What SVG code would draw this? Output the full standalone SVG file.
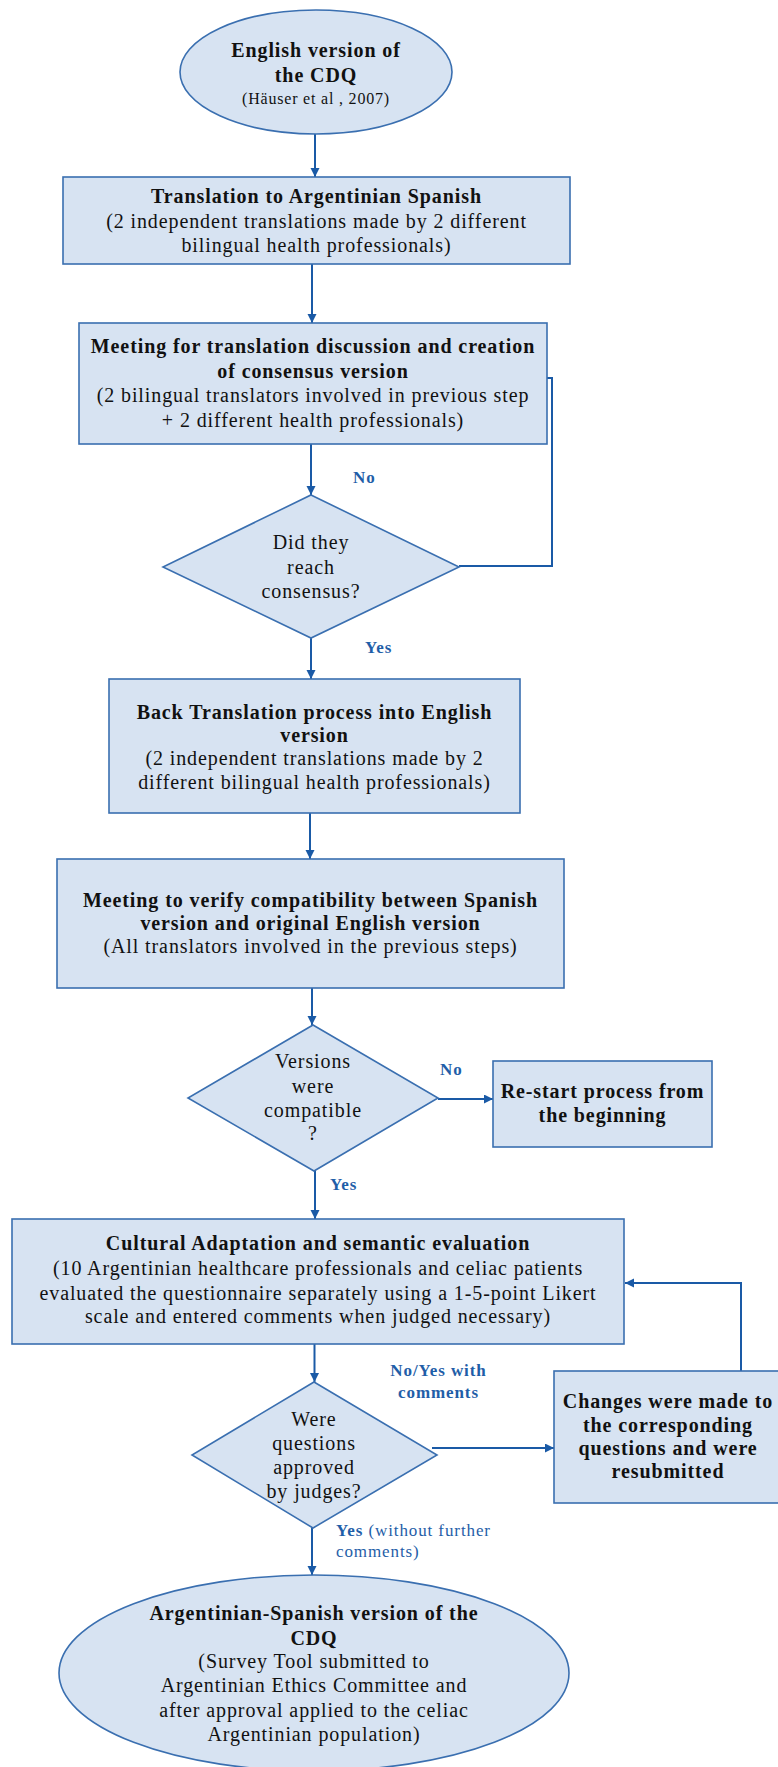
<svg xmlns="http://www.w3.org/2000/svg" width="778" height="1767" viewBox="0 0 778 1767">
<style>
  .node { fill: #d7e3f2; stroke: #3a6fb0; stroke-width: 1.6; }
  .t { font-family: "Liberation Serif", "Times New Roman", serif; font-size: 20px; letter-spacing: 0.9px; fill: #111; text-anchor: middle; }
  .b { font-weight: bold; }
  .small { font-size: 16px; letter-spacing: 0.8px; }
  .lbl { font-family: "Liberation Serif", "Times New Roman", serif; font-size: 17px; letter-spacing: 0.9px; fill: #1f5ea8; }
  .lb { font-weight: bold; }
  .conn { fill: none; stroke: #1a5aa6; stroke-width: 2; }
  .arr { marker-end: url(#ah); }
</style>
<defs>
  <marker id="ah" markerUnits="userSpaceOnUse" markerWidth="10" markerHeight="10" refX="9" refY="4.5" orient="auto">
    <path d="M0,0 L9,4.5 L0,9 z" fill="#1a5aa6"/>
  </marker>
</defs>
<rect width="778" height="1767" fill="#ffffff"/>

<g id="connectors">
  <line class="conn arr" x1="315" y1="134" x2="315" y2="177"/>
  <line class="conn arr" x1="312" y1="264" x2="312" y2="323"/>
  <polyline class="conn" points="459,566 552,566 552,378 547,378"/>
  <line class="conn arr" x1="311" y1="444" x2="311" y2="495"/>
  <line class="conn arr" x1="311" y1="638" x2="311" y2="679"/>
  <line class="conn arr" x1="310" y1="813" x2="310" y2="859"/>
  <line class="conn arr" x1="312" y1="988" x2="312" y2="1025"/>
  <line class="conn arr" x1="438" y1="1099" x2="493" y2="1099"/>
  <line class="conn arr" x1="315" y1="1171" x2="315" y2="1219"/>
  <line class="conn arr" x1="314.5" y1="1344" x2="314.5" y2="1382"/>
  <line class="conn arr" x1="432" y1="1448" x2="554" y2="1448"/>
  <polyline class="conn arr" points="741,1371 741,1283 625,1283"/>
  <line class="conn arr" x1="312" y1="1528" x2="312" y2="1575"/>
  <text class="lbl lb" x="353" y="483">No</text>
  <text class="lbl lb" x="365" y="653">Yes</text>
  <text class="lbl lb" x="440" y="1075">No</text>
  <text class="lbl lb" x="330" y="1190">Yes</text>
  <text class="lbl lb" x="438.5" y="1376" text-anchor="middle">No/Yes with</text>
  <text class="lbl lb" x="438.5" y="1398" text-anchor="middle">comments</text>
  <text class="lbl" x="336" y="1536"><tspan class="lb">Yes</tspan> (without further</text>
  <text class="lbl" x="336" y="1557">comments)</text>
</g>

<g id="start">
  <ellipse class="node" cx="316" cy="72" rx="136" ry="62"/>
  <text class="t b" x="316" y="57">English version of</text>
  <text class="t b" x="316" y="82">the CDQ</text>
  <text class="t small" x="316" y="104">(Häuser et al , 2007)</text>
</g>

<g id="translation">
  <rect class="node" x="63" y="177" width="507" height="87"/>
  <text class="t b" x="316.5" y="203">Translation to Argentinian Spanish</text>
  <text class="t" x="316.5" y="228">(2 independent translations made by 2 different</text>
  <text class="t" x="316.5" y="252">bilingual health professionals)</text>
</g>

<g id="meeting-consensus">
  <rect class="node" x="79" y="323" width="468" height="121"/>
  <text class="t b" x="313" y="353">Meeting for translation discussion and creation</text>
  <text class="t b" x="313" y="378">of consensus version</text>
  <text class="t" x="313" y="402">(2 bilingual translators involved in previous step</text>
  <text class="t" x="313" y="427">+ 2 different health professionals)</text>
</g>

<g id="decision-consensus">
  <polygon class="node" points="311,495 459,567 311,638 163,567"/>
  <text class="t" x="311" y="549">Did they</text>
  <text class="t" x="311" y="574">reach</text>
  <text class="t" x="311" y="598">consensus?</text>
</g>

<g id="back-translation">
  <rect class="node" x="109" y="679" width="411" height="134"/>
  <text class="t b" x="314.5" y="719">Back Translation process into English</text>
  <text class="t b" x="314.5" y="742">version</text>
  <text class="t" x="314.5" y="765">(2 independent translations made by 2</text>
  <text class="t" x="314.5" y="789">different bilingual health professionals)</text>
</g>

<g id="meeting-verify">
  <rect class="node" x="57" y="859" width="507" height="129"/>
  <text class="t b" x="310.5" y="907">Meeting to verify compatibility between Spanish</text>
  <text class="t b" x="310.5" y="930">version and original English version</text>
  <text class="t" x="310.5" y="953">(All translators involved in the previous steps)</text>
</g>

<g id="decision-compatible">
  <polygon class="node" points="313,1025 438,1098 314,1171 188,1098"/>
  <text class="t" x="313" y="1068">Versions</text>
  <text class="t" x="313" y="1093">were</text>
  <text class="t" x="313" y="1117">compatible</text>
  <text class="t" x="313" y="1140">?</text>
</g>

<g id="restart">
  <rect class="node" x="493" y="1061" width="219" height="86"/>
  <text class="t b" x="602.5" y="1098">Re-start process from</text>
  <text class="t b" x="602.5" y="1122">the beginning</text>
</g>

<g id="cultural-adaptation">
  <rect class="node" x="12" y="1219" width="612" height="125"/>
  <text class="t b" x="318" y="1250">Cultural Adaptation and semantic evaluation</text>
  <text class="t" x="318" y="1275">(10 Argentinian healthcare professionals and celiac patients</text>
  <text class="t" x="318" y="1300">evaluated the questionnaire separately using a 1-5-point Likert</text>
  <text class="t" x="318" y="1323">scale and entered comments when judged necessary)</text>
</g>

<g id="decision-approved">
  <polygon class="node" points="314,1382 437,1455 313,1528 192,1455"/>
  <text class="t" x="314" y="1426">Were</text>
  <text class="t" x="314" y="1450">questions</text>
  <text class="t" x="314" y="1474">approved</text>
  <text class="t" x="314" y="1498">by judges?</text>
</g>

<g id="changes">
  <rect class="node" x="554" y="1371" width="240" height="132"/>
  <text class="t b" x="668" y="1408">Changes were made to</text>
  <text class="t b" x="668" y="1432">the corresponding</text>
  <text class="t b" x="668" y="1455">questions and were</text>
  <text class="t b" x="668" y="1478">resubmitted</text>
</g>

<g id="final">
  <ellipse class="node" cx="314" cy="1673" rx="255" ry="98"/>
  <text class="t b" x="314" y="1620">Argentinian-Spanish version of the</text>
  <text class="t b" x="314" y="1645">CDQ</text>
  <text class="t" x="314" y="1668">(Survey Tool submitted to</text>
  <text class="t" x="314" y="1692">Argentinian Ethics Committee and</text>
  <text class="t" x="314" y="1717">after approval applied to the celiac</text>
  <text class="t" x="314" y="1741">Argentinian population)</text>
</g>
</svg>
